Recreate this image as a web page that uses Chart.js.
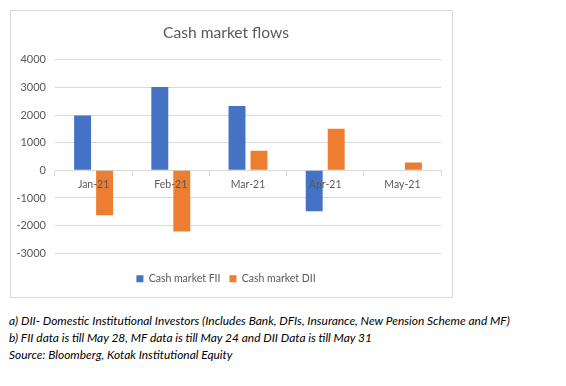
<!DOCTYPE html>
<html><head><meta charset="utf-8">
<script src="https://cdn.jsdelivr.net/npm/chart.js@4/dist/chart.umd.min.js"></script>
<style>
body{margin:0;background:#fff;width:566px;height:386px;overflow:hidden;font-family:Lato,"Open Sans",sans-serif;}
#frame{position:absolute;left:10px;top:10px;width:441px;height:286px;border:1px solid #d9d9d9;}
#notes{position:absolute;left:9px;top:312px;font-style:italic;font-size:11.95px;line-height:17px;color:#000;white-space:nowrap;}
</style></head><body>
<div id="frame"><canvas id="c" width="441" height="286"></canvas></div>
<div id="notes">
<div>a) DII- Domestic Institutional Investors (Includes Bank, DFIs, Insurance, New Pension Scheme and MF)</div>
<div>b) FII data is till May 28, MF data is till May 24 and DII Data is till May 31</div>
<div>Source: Bloomberg, Kotak Institutional Equity</div>
</div>
<script>
const categories = ["Jan-21","Feb-21","Mar-21","Apr-21","May-21"];
const fiiValues = [1980, 3010, 2330, -1480, null];
const diiValues = [-1620, -2210, 710, 1500, 280];
const yTicks = [-3000,-2000,-1000,0,1000,2000,3000,4000];

const grey = "#595959";
new Chart(document.getElementById("c"), {
  type: "bar",
  data: {
    labels: categories,
    datasets: [
      {label: "Cash market FII", data: fiiValues, backgroundColor: "#4472C4", categoryPercentage: 0.57, barPercentage: 0.77},
      {label: "Cash market DII", data: diiValues, backgroundColor: "#ED7D31", categoryPercentage: 0.57, barPercentage: 0.77}
    ]
  },
  options: {
    responsive: false,
    animation: false,
    layout: {padding: {left: 0, right: 11, top: 0, bottom: 3}},
    plugins: {
      title: {display: true, text: "Cash market flows", color: grey, font: {family: "Lato", size: 15.6, weight: "normal"}, padding: {top: 13, bottom: 17}},
      legend: {
        position: "bottom",
        title: {display: true, text: " ", font: {size: 1}, padding: {top: 10, bottom: 0}},
        labels: {boxWidth: 7, boxHeight: 7, color: grey, font: {family: "Lato", size: 10.5}, padding: 9}
      },
      tooltip: {enabled: false}
    },
    scales: {
      x: {
        position: {y: 0},
        offset: true,
        grid: {display: true, drawOnChartArea: false, drawTicks: true, tickLength: 5, color: "#d9d9d9", offset: true},
        border: {display: true, color: "#d9d9d9"},
        ticks: {color: grey, font: {family: "Lato", size: 10.5}, padding: 3, z: 2}
      },
      y: {
        min: -3000, max: 4000,
        afterBuildTicks: s => { s.ticks = yTicks.map(v => ({value: v})); },
        afterFit: s => { s.width = 44; },
        grid: {color: "#d9d9d9", drawTicks: false},
        border: {display: false},
        ticks: {color: grey, font: {family: "Lato", size: 11}, padding: 9, callback: v => String(v)}
      }
    }
  }
});
</script>
</body></html>
